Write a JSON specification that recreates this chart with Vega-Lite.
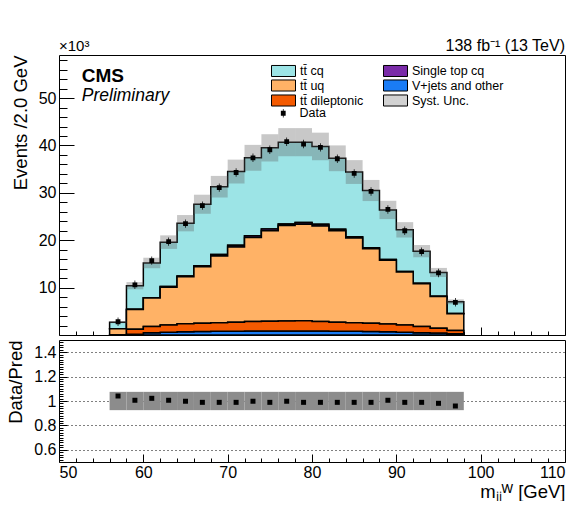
{
  "$schema": "https://vega.github.io/schema/vega-lite/v6.json",
  "background": "white",
  "padding": {"left": 6, "top": 37, "right": 0, "bottom": 0},
  "config": {
    "font": "Liberation Sans",
    "view": {"stroke": "black", "strokeWidth": 1},
    "axis": {"domain": false, "grid": false, "tickColor": "black", "labelColor": "black", "titleColor": "black", "labelFont": "Liberation Sans", "titleFont": "Liberation Sans", "labelFontSize": 16, "titleFontSize": 18.5, "titleFontWeight": "normal", "tickWidth": 1}
  },
  "datasets": {
    "stack": [
      {"x": 56, "tt\u0304 cq": 1.38, "Single top cq": 0.02, "tt\u0304 uq": 1.25, "V+jets and other": 0.0, "tt\u0304 dileptonic": 0.05},
      {"x": 58, "tt\u0304 cq": 4.95, "Single top cq": 0.05, "tt\u0304 uq": 4.2, "V+jets and other": 0.15, "tt\u0304 dileptonic": 1.05},
      {"x": 60, "tt\u0304 cq": 7.32, "Single top cq": 0.08, "tt\u0304 uq": 6.0, "V+jets and other": 0.5, "tt\u0304 dileptonic": 1.3},
      {"x": 62, "tt\u0304 cq": 9.38, "Single top cq": 0.12, "tt\u0304 uq": 8.0, "V+jets and other": 0.6, "tt\u0304 dileptonic": 1.5},
      {"x": 64, "tt\u0304 cq": 11.15, "Single top cq": 0.15, "tt\u0304 uq": 9.95, "V+jets and other": 0.7, "tt\u0304 dileptonic": 1.65},
      {"x": 66, "tt\u0304 cq": 13.0, "Single top cq": 0.2, "tt\u0304 uq": 11.9, "V+jets and other": 0.75, "tt\u0304 dileptonic": 1.75},
      {"x": 68, "tt\u0304 cq": 14.3, "Single top cq": 0.3, "tt\u0304 uq": 14.1, "V+jets and other": 0.8, "tt\u0304 dileptonic": 1.8},
      {"x": 70, "tt\u0304 cq": 15.55, "Single top cq": 0.35, "tt\u0304 uq": 15.9, "V+jets and other": 0.8, "tt\u0304 dileptonic": 1.9},
      {"x": 72, "tt\u0304 cq": 16.45, "Single top cq": 0.35, "tt\u0304 uq": 17.75, "V+jets and other": 0.85, "tt\u0304 dileptonic": 2.0},
      {"x": 74, "tt\u0304 cq": 17.15, "Single top cq": 0.35, "tt\u0304 uq": 19.1, "V+jets and other": 0.85, "tt\u0304 dileptonic": 2.05},
      {"x": 76, "tt\u0304 cq": 17.25, "Single top cq": 0.35, "tt\u0304 uq": 20.15, "V+jets and other": 0.85, "tt\u0304 dileptonic": 2.1},
      {"x": 78, "tt\u0304 cq": 16.95, "Single top cq": 0.35, "tt\u0304 uq": 20.4, "V+jets and other": 0.85, "tt\u0304 dileptonic": 2.15},
      {"x": 80, "tt\u0304 cq": 16.45, "Single top cq": 0.35, "tt\u0304 uq": 20.15, "V+jets and other": 0.85, "tt\u0304 dileptonic": 2.0},
      {"x": 82, "tt\u0304 cq": 15.0, "Single top cq": 0.3, "tt\u0304 uq": 19.3, "V+jets and other": 0.8, "tt\u0304 dileptonic": 1.9},
      {"x": 84, "tt\u0304 cq": 13.65, "Single top cq": 0.25, "tt\u0304 uq": 17.9, "V+jets and other": 0.8, "tt\u0304 dileptonic": 1.8},
      {"x": 86, "tt\u0304 cq": 12.1, "Single top cq": 0.2, "tt\u0304 uq": 15.7, "V+jets and other": 0.75, "tt\u0304 dileptonic": 1.75},
      {"x": 88, "tt\u0304 cq": 10.45, "Single top cq": 0.15, "tt\u0304 uq": 13.5, "V+jets and other": 0.7, "tt\u0304 dileptonic": 1.6},
      {"x": 90, "tt\u0304 cq": 8.78, "Single top cq": 0.12, "tt\u0304 uq": 11.2, "V+jets and other": 0.6, "tt\u0304 dileptonic": 1.5},
      {"x": 92, "tt\u0304 cq": 6.8, "Single top cq": 0.1, "tt\u0304 uq": 9.0, "V+jets and other": 0.5, "tt\u0304 dileptonic": 1.3},
      {"x": 94, "tt\u0304 cq": 5.03, "Single top cq": 0.07, "tt\u0304 uq": 6.7, "V+jets and other": 0.4, "tt\u0304 dileptonic": 1.0},
      {"x": 96, "tt\u0304 cq": 2.46, "Single top cq": 0.04, "tt\u0304 uq": 3.55, "V+jets and other": 0.25, "tt\u0304 dileptonic": 0.7},
      {"x": 98, "tt\u0304 cq": 2.46, "Single top cq": 0.04, "tt\u0304 uq": 3.55, "V+jets and other": 0.25, "tt\u0304 dileptonic": 0.7}
    ],
    "bins": [
      {"x": 57, "lo": 56, "hi": 58, "data": 2.8, "ratio": 1.041, "sysLo": 2.50, "sysHi": 2.90, "rLo": 0.925, "rHi": 1.075},
      {"x": 59, "lo": 58, "hi": 60, "data": 10.6, "ratio": 1.006, "sysLo": 9.64, "sysHi": 11.16, "rLo": 0.925, "rHi": 1.075},
      {"x": 61, "lo": 60, "hi": 62, "data": 15.7, "ratio": 1.022, "sysLo": 14.09, "sysHi": 16.31, "rLo": 0.925, "rHi": 1.075},
      {"x": 63, "lo": 62, "hi": 64, "data": 19.7, "ratio": 1.006, "sysLo": 18.17, "sysHi": 21.03, "rLo": 0.925, "rHi": 1.075},
      {"x": 65, "lo": 64, "hi": 66, "data": 23.5, "ratio": 0.998, "sysLo": 21.88, "sysHi": 25.32, "rLo": 0.925, "rHi": 1.075},
      {"x": 67, "lo": 66, "hi": 68, "data": 27.3, "ratio": 0.989, "sysLo": 25.59, "sysHi": 29.61, "rLo": 0.925, "rHi": 1.075},
      {"x": 69, "lo": 68, "hi": 70, "data": 31.1, "ratio": 0.989, "sysLo": 29.02, "sysHi": 33.58, "rLo": 0.925, "rHi": 1.075},
      {"x": 71, "lo": 70, "hi": 72, "data": 34.3, "ratio": 0.989, "sysLo": 31.98, "sysHi": 37.02, "rLo": 0.925, "rHi": 1.075},
      {"x": 73, "lo": 72, "hi": 74, "data": 37.4, "ratio": 0.998, "sysLo": 34.67, "sysHi": 40.13, "rLo": 0.925, "rHi": 1.075},
      {"x": 75, "lo": 74, "hi": 76, "data": 39.1, "ratio": 0.989, "sysLo": 36.62, "sysHi": 42.38, "rLo": 0.925, "rHi": 1.075},
      {"x": 77, "lo": 76, "hi": 78, "data": 40.8, "ratio": 0.998, "sysLo": 37.73, "sysHi": 43.67, "rLo": 0.925, "rHi": 1.075},
      {"x": 79, "lo": 78, "hi": 80, "data": 40.3, "ratio": 0.989, "sysLo": 37.73, "sysHi": 43.67, "rLo": 0.925, "rHi": 1.075},
      {"x": 81, "lo": 80, "hi": 82, "data": 39.6, "ratio": 0.989, "sysLo": 36.89, "sysHi": 42.71, "rLo": 0.925, "rHi": 1.075},
      {"x": 83, "lo": 82, "hi": 84, "data": 37.2, "ratio": 0.989, "sysLo": 34.58, "sysHi": 40.02, "rLo": 0.925, "rHi": 1.075},
      {"x": 85, "lo": 84, "hi": 86, "data": 34.1, "ratio": 0.989, "sysLo": 31.89, "sysHi": 36.91, "rLo": 0.925, "rHi": 1.075},
      {"x": 87, "lo": 86, "hi": 88, "data": 30.3, "ratio": 0.989, "sysLo": 28.27, "sysHi": 32.73, "rLo": 0.925, "rHi": 1.075},
      {"x": 89, "lo": 88, "hi": 90, "data": 26.5, "ratio": 1.006, "sysLo": 24.47, "sysHi": 28.33, "rLo": 0.925, "rHi": 1.075},
      {"x": 91, "lo": 90, "hi": 92, "data": 22.0, "ratio": 0.989, "sysLo": 20.58, "sysHi": 23.82, "rLo": 0.925, "rHi": 1.075},
      {"x": 93, "lo": 92, "hi": 94, "data": 17.6, "ratio": 0.989, "sysLo": 16.41, "sysHi": 18.99, "rLo": 0.925, "rHi": 1.075},
      {"x": 95, "lo": 94, "hi": 96, "data": 13.1, "ratio": 0.981, "sysLo": 12.24, "sysHi": 14.16, "rLo": 0.925, "rHi": 1.075},
      {"x": 97, "lo": 96, "hi": 98, "data": 6.9, "ratio": 0.959, "sysLo": 6.49, "sysHi": 7.51, "rLo": 0.925, "rHi": 1.075}
    ]
  },
  "spacing": 0,
  "resolve": {"scale": {"x": "independent", "y": "independent", "color": "independent", "shape": "independent"}, "legend": {"color": "independent", "shape": "independent"}},
  "vconcat": [
    {
      "width": 506,
      "height": 280,
      "resolve": {"axis": {"x": "independent", "y": "independent"}},
      "layer": [
        {
          "data": {"name": "stack"},
          "transform": [
            {"fold": ["tt\u0304 cq", "Single top cq", "tt\u0304 uq", "V+jets and other", "tt\u0304 dileptonic"], "as": ["proc", "ev"]},
            {"calculate": "indexof(['V+jets and other', 'tt\u0304 dileptonic', 'tt\u0304 uq', 'Single top cq', 'tt\u0304 cq'], datum.proc)", "as": "k"}
          ],
          "mark": {"type": "area", "interpolate": "step-after", "stroke": "black", "strokeWidth": 1.5},
          "encoding": {
            "x": {"field": "x", "type": "quantitative", "scale": {"domain": [50, 110], "nice": false, "zero": false},
                  "axis": {"orient": "bottom", "values": [50, 60, 70, 80, 90, 100, 110], "labels": false, "tickSize": -8, "title": null}},
            "y": {"field": "ev", "type": "quantitative", "stack": "zero", "scale": {"domain": [0, 59.1], "nice": false},
                  "axis": {"orient": "left", "values": [10, 20, 30, 40, 50], "tickSize": -15, "labelPadding": 18, "title": "Events /2.0 GeV", "titleAnchor": "end", "titlePadding": 8}},
            "color": {"field": "proc", "type": "nominal",
                      "scale": {"domain": ["tt\u0304 cq", "tt\u0304 uq", "tt\u0304 dileptonic", "Single top cq", "V+jets and other", "Syst. Unc."],
                                "range": ["#9ce4e6", "#ffb266", "#f45a00", "#7a2ba8", "#1a7cf5", "#d2d2d2"]},
                      "legend": {"title": null, "orient": "none", "legendX": 218, "legendY": 9, "columns": 2, "direction": "vertical", "columnPadding": 17, "rowPadding": -2.5,
                                 "symbolType": "M-2,-0.92H2V0.92H-2Z", "symbolSize": 144, "symbolStrokeColor": "black", "symbolStrokeWidth": 1, "symbolOpacity": 1,
                                 "labelFontSize": 12.5, "labelFont": "Liberation Sans", "labelColor": "black", "labelOffset": 10, "labelLimit": 300, "padding": 0}},
            "order": {"field": "k", "type": "quantitative"}
          }
        },
        {
          "data": {"name": "bins"},
          "mark": {"type": "rect", "fill": "#606060", "opacity": 0.35},
          "encoding": {
            "x": {"field": "lo", "type": "quantitative", "axis": {"orient": "bottom", "values": [52, 54, 56, 58, 62, 64, 66, 68, 72, 74, 76, 78, 82, 84, 86, 88, 92, 94, 96, 98, 102, 104, 106, 108], "labels": false, "tickSize": -4, "title": null}},
            "x2": {"field": "hi"},
            "y": {"field": "sysLo", "type": "quantitative", "axis": {"orient": "left", "values": [2, 4, 6, 8, 12, 14, 16, 18, 22, 24, 26, 28, 32, 34, 36, 38, 42, 44, 46, 48, 52, 54, 56, 58], "labels": false, "tickSize": -8, "title": null}},
            "y2": {"field": "sysHi"}
          }
        },
        {
          "data": {"name": "bins"},
          "mark": {"type": "point", "size": 144, "filled": true, "color": "black", "opacity": 1},
          "encoding": {
            "x": {"field": "x", "type": "quantitative", "axis": null},
            "y": {"field": "data", "type": "quantitative", "axis": null},
            "shape": {"datum": "Data", "type": "nominal",
                      "scale": {"domain": ["Data"], "range": ["M-0.4,-0.4H0.4V0.4H-0.4Z M-0.06,-0.7H0.06V0.7H-0.06Z"]},
                      "legend": {"title": null, "orient": "none", "legendX": 218, "legendY": 52, "symbolSize": 144, "symbolFillColor": "black", "symbolStrokeColor": "black", "symbolStrokeWidth": 0, "symbolOpacity": 1,
                                 "labelFontSize": 12.5, "labelFont": "Liberation Sans", "labelColor": "black", "labelOffset": 10, "padding": 0}}
          }
        },
        {
          "data": {"values": [{}]},
          "mark": {"type": "text", "text": "CMS", "font": "Liberation Sans", "fontSize": 19, "fontWeight": "bold", "align": "left", "baseline": "alphabetic", "color": "black"},
          "encoding": {"x": {"datum": 52.7, "type": "quantitative", "axis": null}, "y": {"datum": 53.4, "type": "quantitative", "axis": null}}
        },
        {
          "data": {"values": [{}]},
          "mark": {"type": "text", "text": "Preliminary", "font": "Liberation Sans", "fontSize": 17.5, "fontStyle": "italic", "align": "left", "baseline": "alphabetic", "color": "black"},
          "encoding": {"x": {"datum": 52.7, "type": "quantitative", "axis": null}, "y": {"datum": 49.3, "type": "quantitative", "axis": null}}
        },
        {
          "data": {"values": [{}]},
          "mark": {"type": "text", "text": "\u00d710\u00b3", "font": "Liberation Sans", "fontSize": 15, "align": "left", "baseline": "alphabetic", "dy": -4, "color": "black"},
          "encoding": {"x": {"datum": 50, "type": "quantitative", "axis": null}, "y": {"datum": 59.1, "type": "quantitative", "axis": null}}
        },
        {
          "data": {"values": [{}]},
          "mark": {"type": "text", "text": "138 fb\u207b\u00b9 (13 TeV)", "font": "Liberation Sans", "fontSize": 16, "align": "right", "baseline": "alphabetic", "dy": -4, "color": "black"},
          "encoding": {"x": {"datum": 110, "type": "quantitative", "axis": null}, "y": {"datum": 59.1, "type": "quantitative", "axis": null}}
        }
      ]
    },
    {
      "width": 506,
      "height": 122,
      "resolve": {"axis": {"x": "independent", "y": "independent"}},
      "layer": [
        {
          "data": {"name": "bins"},
          "mark": {"type": "rect", "fill": "#8c8c8c"},
          "encoding": {
            "x": {"field": "lo", "type": "quantitative", "scale": {"domain": [50, 110], "nice": false, "zero": false},
                  "axis": {"orient": "bottom", "values": [50, 60, 70, 80, 90, 100, 110], "tickSize": -8, "labelPadding": 10, "title": "m\u2c7c\u2c7c\u1d42 [GeV]", "titleAnchor": "end", "titlePadding": 2}},
            "x2": {"field": "hi"},
            "y": {"field": "rLo", "type": "quantitative", "scale": {"domain": [0.5, 1.5], "nice": false, "zero": false},
                  "axis": {"orient": "left", "values": [0.6, 0.8, 1.0, 1.2, 1.4], "format": ".1~f", "tickSize": -8, "labelPadding": 11, "grid": true, "gridColor": "black", "gridDash": [1, 3], "gridWidth": 1, "title": "Data/Pred", "titleAnchor": "end", "titlePadding": 8}},
            "y2": {"field": "rHi"}
          }
        },
        {
          "mark": {"type": "rule", "color": "#888888", "strokeWidth": 1},
          "encoding": {"y": {"datum": 1, "type": "quantitative", "axis": null}}
        },
        {
          "data": {"name": "bins"},
          "mark": {"type": "square", "size": 25, "color": "black", "opacity": 1},
          "encoding": {
            "x": {"field": "x", "type": "quantitative", "axis": {"orient": "bottom", "values": [52, 54, 56, 58, 62, 64, 66, 68, 72, 74, 76, 78, 82, 84, 86, 88, 92, 94, 96, 98, 102, 104, 106, 108], "labels": false, "tickSize": -4, "title": null}},
            "y": {"field": "ratio", "type": "quantitative", "axis": {"orient": "left", "values": [0.52, 0.54, 0.56, 0.58, 0.62, 0.64, 0.66, 0.68, 0.7, 0.72, 0.74, 0.76, 0.78, 0.82, 0.84, 0.86, 0.88, 0.9, 0.92, 0.94, 0.96, 0.98, 1.02, 1.04, 1.06, 1.08, 1.1, 1.12, 1.14, 1.16, 1.18, 1.22, 1.24, 1.26, 1.28, 1.3, 1.32, 1.34, 1.36, 1.38, 1.42, 1.44, 1.46, 1.48], "labels": false, "tickSize": -4, "title": null}}
          }
        }
      ]
    }
  ]
}
